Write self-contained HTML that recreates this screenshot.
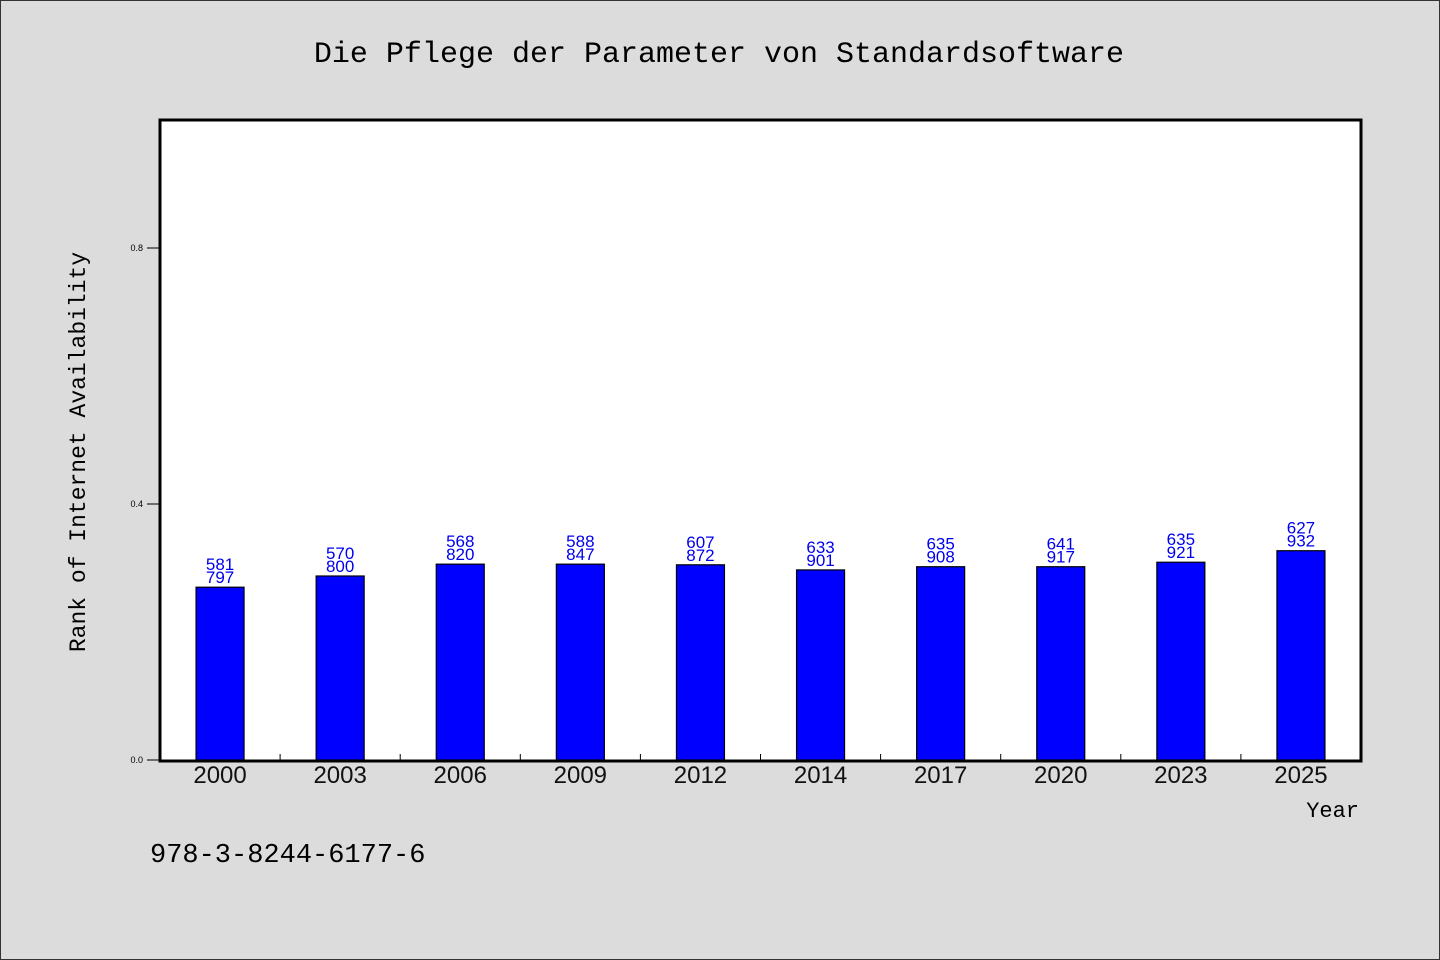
<!DOCTYPE html>
<html><head><meta charset="utf-8"><style>
html,body{margin:0;padding:0;background:#dcdcdc;}
svg{display:block;}
</style></head><body>
<svg id="chart" width="1440" height="960" xmlns="http://www.w3.org/2000/svg">
<rect x="0.5" y="0.5" width="1439" height="959" fill="#dcdcdc" stroke="#333" stroke-width="1"/>
<text x="719" y="62" text-anchor="middle" font-family="'Liberation Mono', monospace" font-size="30" fill="#000">Die Pflege der Parameter von Standardsoftware</text>
<rect x="160" y="120" width="1201" height="641" fill="#fff"/>
<g id="bars"></g>
<g id="axes"></g>
<rect x="160" y="120" width="1201" height="641" fill="none" stroke="#000" stroke-width="3"/>
<text transform="translate(85,452) rotate(-90)" text-anchor="middle" font-family="'Liberation Mono', monospace" font-size="23" fill="#000">Rank of Internet Availability</text>
<text x="1359" y="817" text-anchor="end" font-family="'Liberation Mono', monospace" font-size="22" fill="#000">Year</text>
<text x="150" y="862" font-family="'Liberation Mono', monospace" font-size="27" fill="#000">978-3-8244-6177-6</text>
</svg>
<script>
const categories = ["2000","2003","2006","2009","2012","2014","2017","2020","2023","2025"];
const values = [0.270,0.2875,0.306,0.306,0.305,0.297,0.302,0.302,0.309,0.327];
const topLabels = ["581","570","568","588","607","633","635","641","635","627"];
const bottomLabels = ["797","800","820","847","872","901","908","917","921","932"];
const yTicks = [0.0,0.4,0.8];
const yTickLabels = ["0.0","0.4","0.8"];

const NS="http://www.w3.org/2000/svg";
const x0=160,x1=1361,yBase=760,pxPerUnit=640;
const band=(x1-x0)/categories.length, barW=48;
function yScale(v){return yBase-v*pxPerUnit;}
function xCenter(i){return x0+band*(i+0.5);}
function mk(tag,attrs,parent){const e=document.createElementNS(NS,tag);for(const k in attrs)e.setAttribute(k,attrs[k]);parent.appendChild(e);return e;}
const bars=document.getElementById('bars'), axes=document.getElementById('axes');
categories.forEach((c,i)=>{
  const cx=xCenter(i), top=yScale(values[i]);
  const r=mk('rect',{x:cx-barW/2,y:top,width:barW,height:yBase-top,fill:'#0000ff',stroke:'#000','stroke-width':1.2},bars);
  
  
  const t1=mk('text',{x:cx,y:top-17,'text-anchor':'middle','font-family':"'Liberation Sans', sans-serif",'font-size':17,fill:'#0000ee'},bars);
  t1.textContent=topLabels[i];
  
  
  const t2=mk('text',{x:cx,y:top-4,'text-anchor':'middle','font-family':"'Liberation Sans', sans-serif",'font-size':17,fill:'#0000ee'},bars);
  t2.textContent=bottomLabels[i];
  
  
  const xl=mk('text',{x:cx,y:783,'text-anchor':'middle','font-family':"'Liberation Sans', sans-serif",'font-size':24,fill:'#111'},axes);
  xl.textContent=c;
  
  
  if(i>0){
    const tk=mk('line',{x1:x0+band*i,x2:x0+band*i,y1:yBase,y2:yBase-6,stroke:'#000','stroke-width':1},axes);
    
    
  }
});
yTicks.forEach((v,i)=>{
  const y=yScale(v);
  const tk=mk('line',{x1:147,x2:160,y1:y,y2:y,stroke:'#000','stroke-width':1},axes);
  
  
  const tl=mk('text',{x:143,y:y+3,'text-anchor':'end','font-family':"'Liberation Sans', sans-serif",'font-size':9,fill:'#000'},axes);
  tl.textContent=yTickLabels[i];
  
  
});
</script>
</body></html>
